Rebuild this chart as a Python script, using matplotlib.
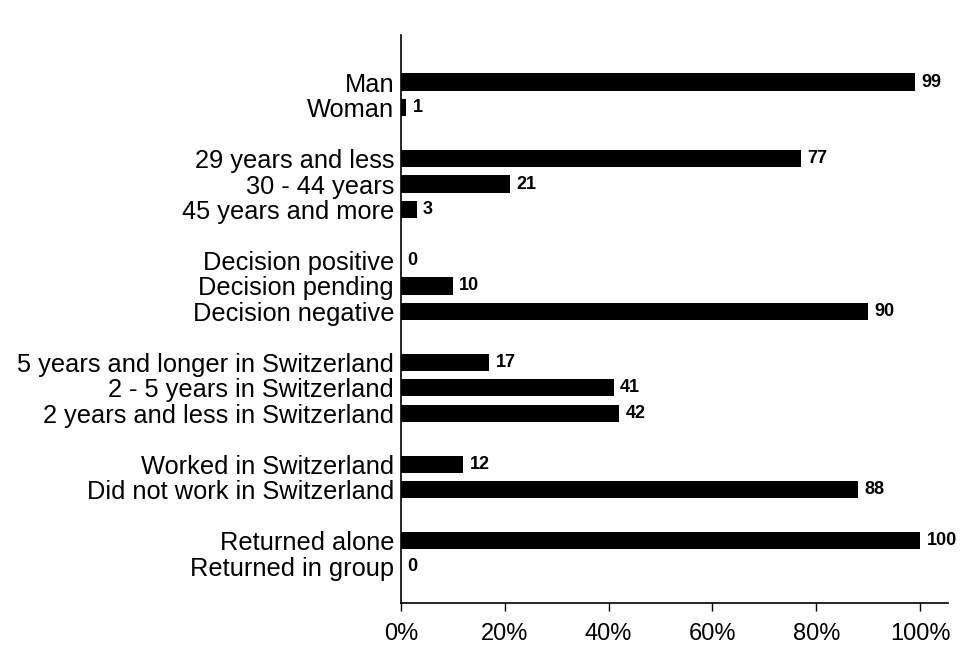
#!/usr/bin/env python3
"""Horizontal bar chart: profile of returnees (percent)."""

import matplotlib

matplotlib.use("Agg")
import matplotlib.pyplot as plt  # noqa: E402

# groups of categories (top to bottom), with a blank row between groups
groups = [
    ["Man", "Woman"],
    ["29 years and less", "30 - 44 years", "45 years and more"],
    ["Decision positive", "Decision pending", "Decision negative"],
    ["5 years and longer in Switzerland", "2 - 5 years in Switzerland",
     "2 years and less in Switzerland"],
    ["Worked in Switzerland", "Did not work in Switzerland"],
    ["Returned alone", "Returned in group"],
]
values = [
    [99, 1],
    [77, 21, 3],
    [0, 10, 90],
    [17, 41, 42],
    [12, 88],
    [100, 0],
]
xticks = [0, 20, 40, 60, 80, 100]

plt.rcParams["font.family"] = ["Liberation Sans", "DejaVu Sans"]

labels, vals, pos = [], [], []
p = 0
for g, v in zip(groups, values):
    for lab, val in zip(g, v):
        labels.append(lab)
        vals.append(val)
        pos.append(p)
        p += 1
    p += 1

fig = plt.figure(figsize=(9.69, 6.45), dpi=100)
ax = fig.add_axes([0.4138, 0.065, 0.978 - 0.4138, 0.9457 - 0.065])

ax.barh(pos, vals, height=0.68, color="black")
for y, v in zip(pos, vals):
    ax.text(v + 1.2, y, str(v), va="center", ha="left",
            fontsize=13, fontweight="bold")

ax.set_ylim(pos[-1] + 1.45, -1.85)
ax.set_xlim(0, 105.3)
ax.set_yticks(pos)
ax.set_yticklabels(labels, fontsize=18.3)
ax.tick_params(axis="y", length=0, pad=5)
ax.set_xticks(xticks)
ax.set_xticklabels([f"{t}%" for t in xticks], fontsize=17)
ax.tick_params(axis="x", length=6, width=1, pad=8)

for s in ["top", "right"]:
    ax.spines[s].set_visible(False)
ax.spines["left"].set_linewidth(1.2)
ax.spines["bottom"].set_linewidth(1.2)

fig.savefig("out.png", dpi=100)
